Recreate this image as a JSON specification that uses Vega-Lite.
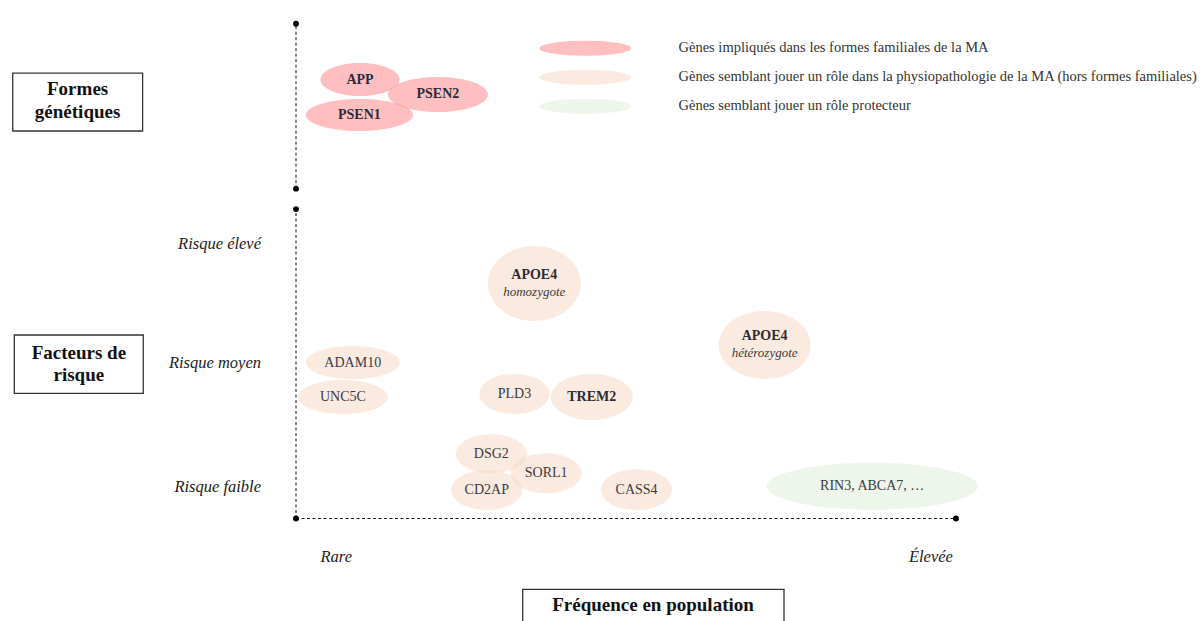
{
  "$schema": "https://vega.github.io/schema/vega-lite/v6.json",
  "width": 1201,
  "height": 621,
  "autosize": {"type": "none"},
  "padding": 0,
  "background": "white",
  "config": {"view": {"stroke": null}, "axis": {"disable": true}},
  "datasets": {
    "genes": [
      {"id": "APP", "label": "APP", "sub": "", "group": "Gènes impliqués dans les formes familiales de la MA", "frequency": 9.7, "risk": 141.6},
      {"id": "PSEN2", "label": "PSEN2", "sub": "", "group": "Gènes impliqués dans les formes familiales de la MA", "frequency": 21.5, "risk": 136.8},
      {"id": "PSEN1", "label": "PSEN1", "sub": "", "group": "Gènes impliqués dans les formes familiales de la MA", "frequency": 9.6, "risk": 130.2},
      {"id": "APOE4 homozygote", "label": "APOE4", "sub": "homozygote", "group": "Gènes semblant jouer un rôle dans la physiopathologie de la MA (hors formes familiales)", "frequency": 36.1, "risk": 75.8},
      {"id": "APOE4 hétérozygote", "label": "APOE4", "sub": "hétérozygote", "group": "Gènes semblant jouer un rôle dans la physiopathologie de la MA (hors formes familiales)", "frequency": 71.0, "risk": 56.0},
      {"id": "ADAM10", "label": "ADAM10", "sub": "", "group": "Gènes semblant jouer un rôle dans la physiopathologie de la MA (hors formes familiales)", "frequency": 8.6, "risk": 50.3},
      {"id": "UNC5C", "label": "UNC5C", "sub": "", "group": "Gènes semblant jouer un rôle dans la physiopathologie de la MA (hors formes familiales)", "frequency": 7.1, "risk": 39.2},
      {"id": "PLD3", "label": "PLD3", "sub": "", "group": "Gènes semblant jouer un rôle dans la physiopathologie de la MA (hors formes familiales)", "frequency": 33.1, "risk": 40.2},
      {"id": "TREM2", "label": "TREM2", "sub": "", "group": "Gènes semblant jouer un rôle dans la physiopathologie de la MA (hors formes familiales)", "frequency": 44.8, "risk": 39.2},
      {"id": "DSG2", "label": "DSG2", "sub": "", "group": "Gènes semblant jouer un rôle dans la physiopathologie de la MA (hors formes familiales)", "frequency": 29.6, "risk": 20.9},
      {"id": "SORL1", "label": "SORL1", "sub": "", "group": "Gènes semblant jouer un rôle dans la physiopathologie de la MA (hors formes familiales)", "frequency": 37.9, "risk": 14.6},
      {"id": "CD2AP", "label": "CD2AP", "sub": "", "group": "Gènes semblant jouer un rôle dans la physiopathologie de la MA (hors formes familiales)", "frequency": 28.9, "risk": 9.2},
      {"id": "CASS4", "label": "CASS4", "sub": "", "group": "Gènes semblant jouer un rôle dans la physiopathologie de la MA (hors formes familiales)", "frequency": 51.6, "risk": 9.3},
      {"id": "RIN3", "label": "RIN3, ABCA7, …", "sub": "", "group": "Gènes semblant jouer un rôle protecteur", "frequency": 87.3, "risk": 10.4}
    ]
  },
  "layer": [
    {
      "data": {"values": [{}]},
      "mark": {"type": "rule", "stroke": "#111", "strokeWidth": 1, "strokeDash": [3, 2.5]},
      "encoding": {
        "x": {"datum": 0, "type": "quantitative", "scale": {"domain": [-44.8485, 137.1212], "zero": false, "nice": false}, "axis": null},
        "y": {"datum": 106.4, "type": "quantitative", "scale": {"domain": [-33.065, 167.258], "zero": false, "nice": false}, "axis": null},
        "y2": {"datum": 159.6}
      }
    },
    {
      "data": {"values": [{}]},
      "mark": {"type": "rule", "stroke": "#111", "strokeWidth": 1, "strokeDash": [3, 2.5]},
      "encoding": {"x": {"datum": 0}, "y": {"datum": 0}, "y2": {"datum": 99.8}}
    },
    {
      "data": {"values": [{}]},
      "mark": {"type": "rule", "stroke": "#111", "strokeWidth": 1, "strokeDash": [3, 2.5]},
      "encoding": {"x": {"datum": 0}, "x2": {"datum": 100}, "y": {"datum": 0}}
    },
    {
      "data": {"values": [
        {"frequency": 0, "risk": 159.6},
        {"frequency": 0, "risk": 106.4},
        {"frequency": 0, "risk": 99.8},
        {"frequency": 0, "risk": 0},
        {"frequency": 100, "risk": 0}
      ]},
      "mark": {"type": "point", "filled": true, "shape": "circle", "size": 34, "color": "#000", "opacity": 1},
      "encoding": {
        "x": {"field": "frequency", "type": "quantitative"},
        "y": {"field": "risk", "type": "quantitative"}
      }
    },
    {
      "data": {"name": "genes"},
      "mark": {"type": "point", "filled": true, "size": 4, "opacity": 0.55, "strokeWidth": 0},
      "encoding": {
        "x": {"field": "frequency", "type": "quantitative"},
        "y": {"field": "risk", "type": "quantitative"},
        "color": {
          "field": "group",
          "type": "nominal",
          "scale": {
            "domain": [
              "Gènes impliqués dans les formes familiales de la MA",
              "Gènes semblant jouer un rôle dans la physiopathologie de la MA (hors formes familiales)",
              "Gènes semblant jouer un rôle protecteur"
            ],
            "range": ["#ff8b8e", "#f8d9c5", "#e0edd9"]
          },
          "legend": {
            "orient": "none",
            "legendX": 578,
            "legendY": 41,
            "title": null,
            "padding": 0,
            "symbolType": "M-46,0A46,7.5,0,1,0,46,0A46,7.5,0,1,0,-46,0Z",
            "symbolSize": 4,
            "symbolStrokeWidth": 0,
            "labelFont": "Liberation Serif",
            "labelFontSize": 14.5,
            "labelColor": "#333",
            "labelLimit": 800,
            "labelOffset": 86,
            "rowPadding": 13
          }
        },
        "shape": {
          "field": "id",
          "type": "nominal",
          "legend": null,
          "scale": {
            "domain": ["APP", "PSEN2", "PSEN1", "APOE4 homozygote", "APOE4 hétérozygote", "ADAM10", "UNC5C", "PLD3", "TREM2", "DSG2", "SORL1", "CD2AP", "CASS4", "RIN3"],
            "range": [
              "M-39.5,0A39.5,16.5,0,1,0,39.5,0A39.5,16.5,0,1,0,-39.5,0Z",
              "M-50,0A50,17.5,0,1,0,50,0A50,17.5,0,1,0,-50,0Z",
              "M-53.5,0A53.5,16,0,1,0,53.5,0A53.5,16,0,1,0,-53.5,0Z",
              "M-46.5,0A46.5,37.5,0,1,0,46.5,0A46.5,37.5,0,1,0,-46.5,0Z",
              "M-46,0A46,34,0,1,0,46,0A46,34,0,1,0,-46,0Z",
              "M-47,0A47,16.5,0,1,0,47,0A47,16.5,0,1,0,-47,0Z",
              "M-45,0A45,17,0,1,0,45,0A45,17,0,1,0,-45,0Z",
              "M-35,0A35,20,0,1,0,35,0A35,20,0,1,0,-35,0Z",
              "M-41,0A41,23,0,1,0,41,0A41,23,0,1,0,-41,0Z",
              "M-35.5,0A35.5,19.5,0,1,0,35.5,0A35.5,19.5,0,1,0,-35.5,0Z",
              "M-35.5,0A35.5,20,0,1,0,35.5,0A35.5,20,0,1,0,-35.5,0Z",
              "M-35.5,0A35.5,20,0,1,0,35.5,0A35.5,20,0,1,0,-35.5,0Z",
              "M-35.5,0A35.5,20.5,0,1,0,35.5,0A35.5,20.5,0,1,0,-35.5,0Z",
              "M-105.5,0A105.5,23.5,0,1,0,105.5,0A105.5,23.5,0,1,0,-105.5,0Z"
            ]
          }
        }
      }
    },
    {
      "data": {"name": "genes"},
      "transform": [{"filter": {"field": "label", "oneOf": ["APP", "PSEN1", "PSEN2", "TREM2"]}}],
      "mark": {"type": "text", "font": "Liberation Serif", "fontSize": 14, "fontWeight": "bold", "color": "#2c2c36", "baseline": "middle", "align": "center"},
      "encoding": {
        "x": {"field": "frequency", "type": "quantitative"},
        "y": {"field": "risk", "type": "quantitative"},
        "text": {"field": "label", "type": "nominal"}
      }
    },
    {
      "data": {"name": "genes"},
      "transform": [{"filter": {"field": "label", "equal": "APOE4"}}],
      "mark": {"type": "text", "font": "Liberation Serif", "fontSize": 14, "fontWeight": "bold", "color": "#2c2c36", "baseline": "middle", "align": "center", "dy": -9},
      "encoding": {
        "x": {"field": "frequency", "type": "quantitative"},
        "y": {"field": "risk", "type": "quantitative"},
        "text": {"field": "label", "type": "nominal"}
      }
    },
    {
      "data": {"name": "genes"},
      "transform": [{"filter": {"field": "sub", "oneOf": ["homozygote", "hétérozygote"]}}],
      "mark": {"type": "text", "font": "Liberation Serif", "fontSize": 13, "fontStyle": "italic", "color": "#3b3b44", "baseline": "middle", "align": "center", "dy": 8},
      "encoding": {
        "x": {"field": "frequency", "type": "quantitative"},
        "y": {"field": "risk", "type": "quantitative"},
        "text": {"field": "sub", "type": "nominal"}
      }
    },
    {
      "data": {"name": "genes"},
      "transform": [{"filter": {"field": "label", "oneOf": ["ADAM10", "UNC5C", "PLD3", "DSG2", "SORL1", "CD2AP", "CASS4", "RIN3, ABCA7, …"]}}],
      "mark": {"type": "text", "font": "Liberation Serif", "fontSize": 14, "color": "#3b3b44", "baseline": "middle", "align": "center"},
      "encoding": {
        "x": {"field": "frequency", "type": "quantitative"},
        "y": {"field": "risk", "type": "quantitative"},
        "text": {"field": "label", "type": "nominal"}
      }
    },
    {
      "data": {"values": [
        {"level": "Risque élevé", "risk": 88.5},
        {"level": "Risque moyen", "risk": 50.2},
        {"level": "Risque faible", "risk": 10.3}
      ]},
      "mark": {"type": "text", "font": "Liberation Serif", "fontSize": 16.5, "fontStyle": "italic", "color": "#222", "baseline": "middle", "align": "right"},
      "encoding": {
        "x": {"datum": -5.3},
        "y": {"field": "risk", "type": "quantitative"},
        "text": {"field": "level", "type": "nominal"}
      }
    },
    {
      "data": {"values": [
        {"level": "Rare", "frequency": 6.1},
        {"level": "Élevée", "frequency": 96.2}
      ]},
      "mark": {"type": "text", "font": "Liberation Serif", "fontSize": 16.5, "fontStyle": "italic", "color": "#222", "baseline": "middle", "align": "center"},
      "encoding": {
        "x": {"field": "frequency", "type": "quantitative"},
        "y": {"datum": -12.3},
        "text": {"field": "level", "type": "nominal"}
      }
    },
    {
      "data": {"values": [{"title": "Formes\ngénétiques"}]},
      "layer": [
        {
          "mark": {"type": "rect", "fill": "white", "stroke": "#333", "strokeWidth": 1.3},
          "encoding": {"x": {"datum": -42.92}, "x2": {"datum": -23.24}, "y": {"datum": 143.7}, "y2": {"datum": 125.0}}
        },
        {
          "mark": {"type": "text", "font": "Liberation Serif", "fontSize": 19, "fontWeight": "bold", "color": "#111", "baseline": "middle", "align": "center", "lineBreak": "\n", "lineHeight": 22.5},
          "encoding": {"x": {"datum": -33.09}, "y": {"datum": 138.4}, "text": {"field": "title", "type": "nominal"}}
        }
      ]
    },
    {
      "data": {"values": [{"title": "Facteurs de\nrisque"}]},
      "layer": [
        {
          "mark": {"type": "rect", "fill": "white", "stroke": "#333", "strokeWidth": 1.3},
          "encoding": {"x": {"datum": -42.68}, "x2": {"datum": -23.14}, "y": {"datum": 59.19}, "y2": {"datum": 40.39}}
        },
        {
          "mark": {"type": "text", "font": "Liberation Serif", "fontSize": 19, "fontWeight": "bold", "color": "#111", "baseline": "middle", "align": "center", "lineBreak": "\n", "lineHeight": 22},
          "encoding": {"x": {"datum": -32.9}, "y": {"datum": 53.3}, "text": {"field": "title", "type": "nominal"}}
        }
      ]
    },
    {
      "data": {"values": [{"title": "Fréquence en population"}]},
      "layer": [
        {
          "mark": {"type": "rect", "fill": "white", "stroke": "#333", "strokeWidth": 1.3},
          "encoding": {"x": {"datum": 34.35}, "x2": {"datum": 73.94}, "y": {"datum": -22.84}, "y2": {"datum": -34.5}}
        },
        {
          "mark": {"type": "text", "font": "Liberation Serif", "fontSize": 19, "fontWeight": "bold", "color": "#111", "baseline": "middle", "align": "center"},
          "encoding": {"x": {"datum": 54.09}, "y": {"datum": -27.9}, "text": {"field": "title", "type": "nominal"}}
        }
      ]
    }
  ]
}
